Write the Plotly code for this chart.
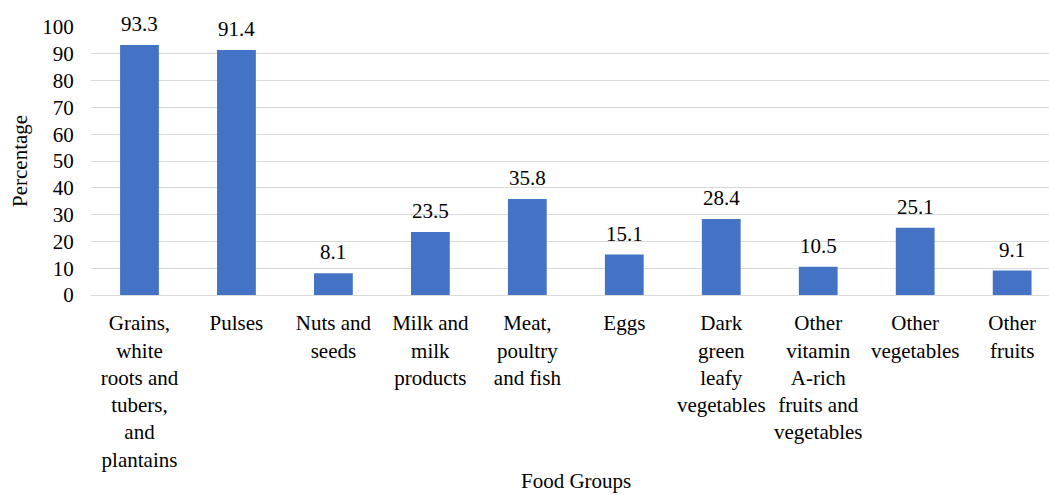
import plotly.graph_objects as go

categories = [
    "Grains,<br>white<br>roots and<br>tubers,<br>and<br>plantains",
    "Pulses",
    "Nuts and<br>seeds",
    "Milk and<br>milk<br>products",
    "Meat,<br>poultry<br>and fish",
    "Eggs",
    "Dark<br>green<br>leafy<br>vegetables",
    "Other<br>vitamin<br>A-rich<br>fruits and<br>vegetables",
    "Other<br>vegetables",
    "Other<br>fruits",
]
values = [93.3, 91.4, 8.1, 23.5, 35.8, 15.1, 28.4, 10.5, 25.1, 9.1]
y_ticks = [0, 10, 20, 30, 40, 50, 60, 70, 80, 90, 100]

FONT = "Liberation Serif"
BLUE = "#4472C4"

fig = go.Figure()
fig.add_trace(go.Bar(
    x=list(range(len(categories))),
    y=values,
    marker=dict(color=BLUE, line=dict(width=0)),
    width=0.4,
))

for i, v in enumerate(values):
    fig.add_annotation(
        x=i, y=v, xref="x", yref="y",
        text=f"{v:.1f}", showarrow=False,
        yanchor="bottom", yshift=7,
        font=dict(family=FONT, size=21, color="#000000"),
    )

fig.add_annotation(
    text="Percentage", xref="paper", yref="paper",
    x=(20 - 91) / 958, y=0.5, textangle=-90, showarrow=False,
    xanchor="center", yanchor="middle",
    font=dict(family=FONT, size=21, color="#000000"),
)
fig.add_annotation(
    text="Food Groups", xref="paper", yref="paper",
    x=(576 - 91) / 958, y=(295 - 481) / 268, showarrow=False,
    xanchor="center", yanchor="middle",
    font=dict(family=FONT, size=21, color="#000000"),
)

fig.update_layout(
    width=1049, height=495,
    margin=dict(l=91, r=0, t=27, b=200),
    plot_bgcolor="white", paper_bgcolor="white",
    showlegend=False,
    font=dict(family=FONT, size=21, color="#000000"),
    xaxis=dict(
        range=[-0.5, 9.38],
        tickmode="array",
        tickvals=list(range(len(categories))),
        ticktext=categories,
        showgrid=False, zeroline=False,
        showline=False, ticks="outside", ticklen=9, tickcolor="rgba(0,0,0,0)",
        tickfont=dict(family=FONT, size=21, color="#000000"),
    ),
    yaxis=dict(
        range=[0, 100],
        tickmode="array",
        tickvals=y_ticks,
        ticktext=[str(t) for t in y_ticks],
        showgrid=True, gridcolor="#D9D9D9", gridwidth=1,
        zeroline=True, zerolinecolor="#D9D9D9", zerolinewidth=1,
        showline=False, ticks="outside", ticklen=12, tickcolor="rgba(0,0,0,0)",
        tickfont=dict(family=FONT, size=21, color="#000000"),
    ),
)

fig.write_html("out.html")
